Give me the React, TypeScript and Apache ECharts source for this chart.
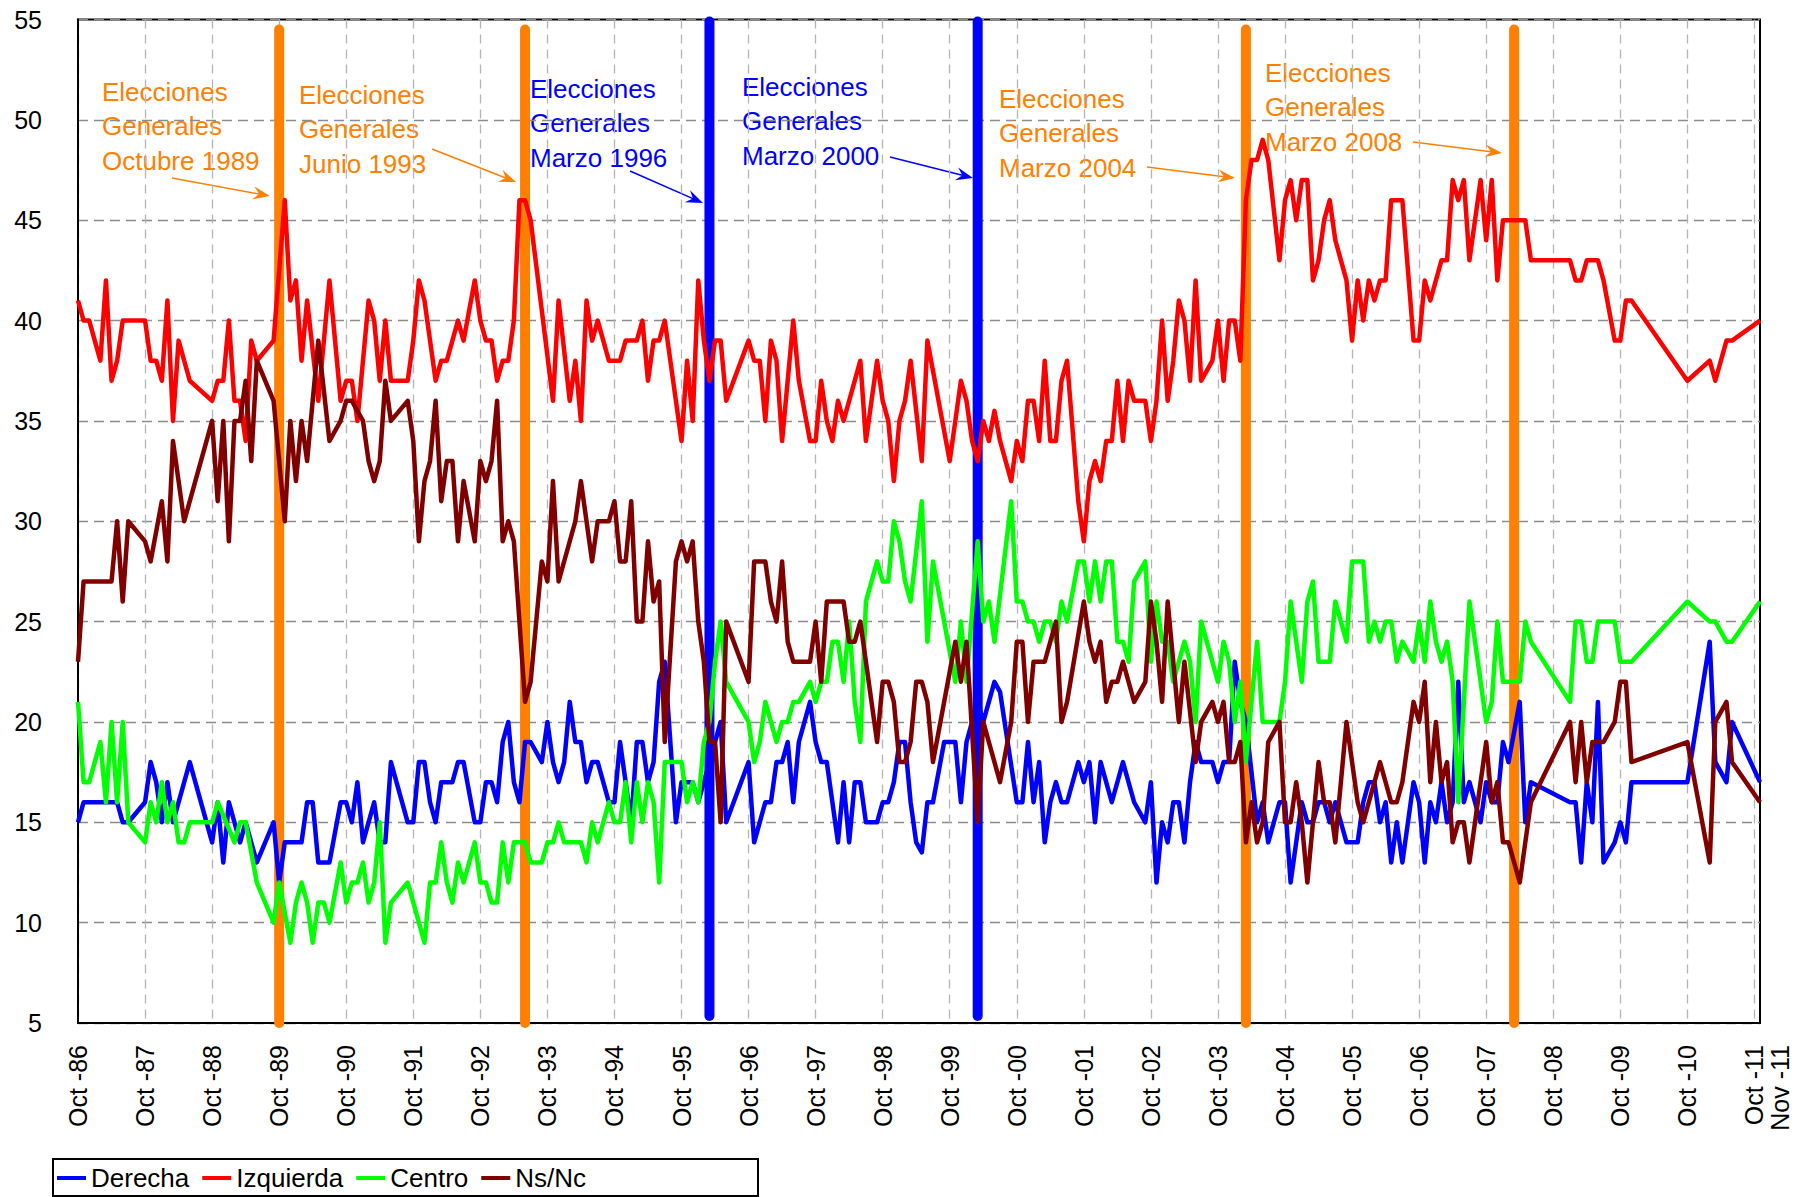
import React, { useEffect, useRef } from "react";
import * as echarts from "echarts";

const MONTHS_ES = ["Ene", "Feb", "Mar", "Abr", "May", "Jun", "Jul", "Ago", "Sep", "Oct", "Nov", "Dic"];
const N_MONTHS = 302; // Oct-86 .. Nov-11
const categories: string[] = [];
for (let k = 0; k < N_MONTHS; k++) {
  const m = (9 + k) % 12;
  const y = 1986 + Math.floor((9 + k) / 12);
  categories.push(`${MONTHS_ES[m]} -${String(y % 100).padStart(2, "0")}`);
}

// [month index from Oct-86, value]
const derecha = [
  [0,15],[1,16],[7,16],[8,15],[9,15],[12,16],[13,18],[14,17],[15,15],[16,17],[17,15],[20,18],[24,14],[25,16],[26,13],[27,16],[29,14],[30,15],[32,13],[35,15],[36,12],[37,14],[40,14],[41,16],[42,16],[43,13],[45,13],[47,16],[48,16],[49,15],[50,17],
  [51,14],[53,16],[54,14],[55,14],[56,18],[59,15],[60,15],[61,18],[62,18],[63,16],[64,15],[65,17],[67,17],[68,18],[69,18],[71,15],[72,15],[73,17],[74,17],[75,16],[76,19],[77,20],[78,17],[79,16],[80,19],[81,19],[83,18],[84,20],[85,18],[86,17],[87,18],[88,21],[89,19],[90,19],[91,17],[92,18],[93,18],[95,16],[96,16],[97,19],[99,15],[100,19],
  [101,19],[102,17],[103,18],[104,22],[105,23],[107,15],[108,17],[110,17],[111,16],[113,18],[115,20],[116,15],[120,18],[121,14],[123,16],[124,16],[125,18],[126,18],[127,19],[128,16],[129,19],[131,21],[132,19],[133,18],[134,18],[136,14],[137,17],[138,14],[139,17],[140,17],[141,15],[143,15],[144,16],[145,16],[146,17],[147,19],[148,19],[149,16],[150,14],
  [151,13.5],[152,16],[153,16],[155,19],[157,19],[158,16],[159,19],[160,20],[161,21],[162,20],[163,21],[164,22],[165,21.5],[168,16],[169,16],[170,19],[171,16],[172,18],[173,14],[174,16],[175,17],[176,16],[177,16],[179,18],[180,17],[181,18],[182,15],[183,18],[185,16],[187,18],[189,16],[191,15],[192,17],[193,12],[194,15],[195,14],[196,16],[197,16],[198,14],[199,17],[200,19],
  [201,18],[203,18],[204,17],[205,18],[206,18],[207,23],[208,21],[209,20],[211,15],[212,16],[213,14],[215,16],[216,16],[217,12],[219,16],[220,15],[221,15],[222,16],[223,16],[224,15],[225,16],[227,14],[229,14],[230,16],[231,17],[232,17],[233,15],[234,16],[235,13],[236,15],[237,13],[239,17],[240,16],[241,13],[242,16],[243,15],[244,17],[245,15],[246,16],[247,22],[248,16],[249,17],
  [251,15],[252,17],[253,16],[254,16],[255,19],[256,18],[258,21],[259,15],[260,17],[267,16],[268,16],[269,13],[270,17],[271,15],[272,21],[273,13],[275,14],[276,15],[277,14],[278,17],[288,17],[292,24],[293,18],[295,17],[296,20],[301,17],
];

const izquierda = [
  [0,41],[1,40],[2,40],[4,38],[5,42],[6,37],[7,38],[8,40],[12,40],[13,38],[14,38],[15,37],[16,41],[17,35],[18,39],[20,37],[24,36],[25,37],[26,37],[27,40],[28,36],[29,36],[30,34],[31,39],[32,38],[35,39],[37,46],[38,41],[39,42],[40,38],[41,41],[43,36],[45,42],[47,36],[48,37],[49,37],[50,35],
  [52,41],[53,40],[54,37],[55,40],[56,37],[59,37],[60,39],[61,42],[62,41],[64,37],[65,38],[66,38],[68,40],[69,39],[71,42],[72,40],[73,39],[74,39],[75,37],[76,38],[77,38],[78,40],[79,46],[80,46],[81,45],[85,36],[86,41],[88,36],[89,38],[90,35],[91,41],[92,39],[93,40],[95,38],[97,38],[98,39],[100,39],
  [101,40],[102,37],[103,39],[104,39],[105,40],[108,34],[109,38],[110,35],[111,42],[112,39],[113,37],[114,39],[115,39],[116,36],[120,39],[121,38],[122,38],[123,35],[124,39],[125,38],[126,34],[128,40],[129,37],[131,34],[132,34],[133,37],[134,35],[135,34],[136,36],[137,35],[140,38],[141,34],[143,38],[144,36],[145,35],[146,32],[147,35],[148,36],[149,38],
  [151,33],[152,39],[156,33],[158,37],[159,36],[160,34],[161,33],[162,35],[163,34],[164,35.5],[165,34],[167,32],[168,34],[169,33],[170,36],[171,36],[172,34],[173,38],[174,34],[175,34],[176,37],[177,38],[179,31],[180,29],[181,32],[182,33],[183,32],[184,34],[185,34],[186,37],[187,34],[188,37],[189,36],[191,36],[192,34],[193,36],[194,40],[195,36],[196,38],[197,41],[198,40],[199,37],[200,42],
  [201,37],[203,38],[204,40],[205,37],[206,40],[207,40],[208,38],[209,46],[210,48],[211,48],[212,49],[213,48],[215,43],[216,46],[217,47],[218,45],[219,47],[220,47],[221,42],[222,43],[223,45],[224,46],[225,44],[227,42],[228,39],[229,42],[230,40],[231,42],[232,41],[233,42],[234,42],[235,46],[237,46],[239,39],[240,39],[241,42],[242,41],[244,43],[245,43],[246,47],[247,46],[248,47],[249,43],
  [251,47],[252,44],[253,47],[254,42],[255,45],[259,45],[260,43],[267,43],[268,42],[269,42],[270,43],[272,43],[273,42],[275,39],[276,39],[277,41],[278,41],[288,37],[292,38],[293,37],[295,39],[296,39],[301,40],
];

const centro = [
  [0,21],[1,17],[2,17],[4,19],[5,16],[6,20],[7,16],[8,20],[9,15],[12,14],[13,16],[14,15],[15,17],[16,15],[17,16],[18,14],[19,14],[20,15],[24,15],[25,16],[28,14],[29,15],[30,15],[32,12],[35,10],[36,12],[38,9],[39,11],[40,12],[41,11],[42,9],[43,11],[44,11],[45,10],[47,13],[48,11],[49,12],[50,12],
  [51,13],[52,11],[53,12],[54,15],[55,9],[56,11],[59,12],[62,9],[63,12],[64,12],[65,14],[66,12],[67,11],[68,13],[69,12],[71,14],[72,12],[73,12],[74,11],[75,11],[76,14],[77,12],[78,14],[80,14],[81,13],[83,13],[84,14],[85,14],[86,15],[87,14],[90,14],[91,13],[92,15],[93,14],[95,16],[96,15],[97,15],[98,17],[99,14],[100,17],
  [101,15],[102,17],[103,16],[104,12],[105,18],[108,18],[109,16],[110,17],[111,16],[112,19],[113,20],[114,23],[115,25],[116,22],[120,20],[121,18],[122,19],[123,21],[125,19],[126,20],[127,20],[128,21],[129,21],[131,22],[132,21],[133,22],[134,22],[135,24],[136,24],[137,22],[138,25],[139,21],[140,19],[141,26],[143,28],[144,27],[145,27],[146,30],[147,29],[148,27],[149,26],
  [151,31],[152,24],[153,28],[157,22],[158,25],[159,22],[161,29],[162,25],[163,26],[164,24],[167,31],[168,26],[169,26],[170,25],[171,25],[172,24],[173,25],[174,25],[175,24],[176,26],[177,25],[179,28],[180,28],[181,26],[182,28],[183,26],[184,28],[185,28],[186,24],[187,24],[188,23],[189,27],[191,28],[192,23],[193,26],[194,24],[195,24],[196,22],[198,24],[199,23],[200,20],
  [201,25],[204,22],[205,24],[206,23],[207,20],[208,22],[209,18],[211,24],[212,20],[215,20],[216,22],[217,26],[219,22],[220,26],[221,27],[222,23],[224,23],[225,26],[227,24],[228,28],[230,28],[231,24],[232,25],[233,24],[234,25],[235,25],[236,23],[237,24],[239,23],[240,25],[241,23],[242,26],[243,24],[244,23],[245,24],[246,22],[247,16],[249,26],
  [252,20],[253,21],[254,25],[255,22],[258,22],[259,25],[260,24],[267,21],[268,25],[269,25],[270,23],[271,23],[272,25],[275,25],[276,23],[278,23],[288,26],[292,25],[293,25],[295,24],[296,24],[301,26],
];

const nsnc = [
  [0,23],[1,27],[6,27],[7,30],[8,26],[9,30],[12,29],[13,28],[15,31],[16,28],[17,34],[19,30],[24,35],[25,31],[26,35],[27,29],[28,35],[29,35],[30,37],[31,33],[32,38],[35,36],[37,30],[38,35],[39,32],[40,35],[41,33],[43,39],[45,34],[47,35],[48,36],[49,36],
  [51,35],[52,33],[53,32],[54,33],[55,37],[56,35],[59,36],[60,34],[61,29],[62,32],[63,33],[64,36],[65,31],[66,33],[67,33],[68,29],[69,32],[71,29],[72,33],[73,32],[74,33],[75,36],[76,29],[77,30],[78,29],[80,21],[81,22],[83,28],[84,27],[85,32],[86,27],[89,30],[90,32],[92,28],[93,30],[95,30],[96,31],[97,28],[98,28],[99,31],[100,25],
  [101,25],[102,29],[103,26],[104,27],[105,19],[107,28],[108,29],[109,28],[110,29],[111,25],[112,23],[113,19],[114,19],[115,15],[116,25],[120,22],[121,28],[123,28],[124,26],[125,25],[126,28],[127,24],[128,23],[131,23],[132,25],[133,22],[134,26],[137,26],[138,24],[139,24],[140,25],[143,19],[144,22],[145,22],[146,21],[147,18],[148,18],[149,19],[150,22],
  [151,22],[152,21],[153,18],[155,21],[157,24],[158,22],[159,24],[161,15],[162,20],[163,19],[165,17],[167,20],[168,24],[169,24],[170,20],[171,23],[173,23],[175,25],[176,20],[177,21],[180,26],[181,24],[182,23],[183,24],[184,21],[185,22],[186,22],[187,23],[189,21],[191,22],[192,26],[193,24],[194,21],[195,26],[197,20],[198,23],[200,18],
  [201,20],[203,21],[204,20],[205,21],[206,18],[207,18],[208,19],[209,14],[210,16],[211,14],[212,15],[213,19],[215,20],[216,15],[217,15],[218,17],[219,15],[220,12],[221,15],[222,18],[223,16],[224,16],[225,14],[227,20],[229,16],[230,15],[231,16],[232,17],[233,18],[235,16],[236,16],[237,17],[239,21],[240,20],[241,22],[242,17],[243,20],[244,17],[245,18],[246,14],[247,15],[248,15],[249,13],
  [252,19],[253,16],[254,17],[255,14],[256,14],[258,12],[260,16],[267,20],[268,17],[269,20],[270,17],[271,19],[273,19],[275,20],[276,22],[277,22],[278,18],[288,19],[292,13],[293,20],[295,21],[296,18],[301,16],
];

const seriesNames = ["Derecha", "Izquierda", "Centro", "Ns/Nc"];
const seriesColors = ["#0000FF", "#FF0000", "#00FF00", "#800000"];
const seriesData = [derecha, izquierda, centro, nsnc];

// general elections: month index, colour, label
const eleccionesIdx = [36, 80, 113, 161, 209, 257];
const eleccionesColor = ["#FF8000", "#FF8000", "#0000FF", "#0000FF", "#FF8000", "#FF8000"];
const eleccionesLabel = [
  "Elecciones\nGenerales\nOctubre 1989",
  "Elecciones\nGenerales\nJunio 1993",
  "Elecciones\nGenerales\nMarzo 1996",
  "Elecciones\nGenerales\nMarzo 2000",
  "Elecciones\nGenerales\nMarzo 2004",
  "Elecciones\nGenerales\nMarzo 2008",
];

// annotation layout (pixels)
const labelPos = [[102, 92], [299, 95], [530, 89], [742, 87], [999, 99], [1265, 73]];
const arrowPos = [
  [172, 178, 270, 196],
  [432, 149, 516, 182],
  [630, 171, 703, 203],
  [890, 157, 973, 178],
  [1147, 167, 1235, 178],
  [1413, 142, 1502, 153],
];

const FONT = "'Liberation Sans', Arial, sans-serif";
const LINE_H = 34.4;

function arrow(x1: number, y1: number, x2: number, y2: number, color: string) {
  const dx = x2 - x1, dy = y2 - y1;
  const L = Math.hypot(dx, dy);
  const ux = dx / L, uy = dy / L;
  const px = -uy, py = ux;
  const len = 17, w = 6.5, notch = 11;
  const nx = x2 - ux * notch, ny = y2 - uy * notch;
  return [
    { type: "line", shape: { x1, y1, x2: nx, y2: ny }, style: { stroke: color, lineWidth: 1.5 }, silent: true },
    {
      type: "polygon",
      shape: {
        points: [
          [x2, y2],
          [x2 - ux * len + px * w, y2 - uy * len + py * w],
          [nx, ny],
          [x2 - ux * len - px * w, y2 - uy * len - py * w],
        ],
      },
      style: { fill: color },
      silent: true,
    },
  ];
}

export default function App() {
  const ref = useRef<HTMLDivElement>(null);
  useEffect(() => {
    if (!ref.current) return;
    const chart = echarts.init(ref.current, undefined, { renderer: "svg" });

    const electionSeries = eleccionesIdx.map((idx, k) => {
      const blue = eleccionesColor[k] === "#0000FF";
      return {
        type: "line",
        name: "elec" + k,
        data: blue ? [[idx, 54.9], [idx, 5.35]] : [[idx, 54.5], [idx, 5.0]],
        symbol: "none",
        silent: true,
        clip: false,
        z: 1,
        lineStyle: { color: eleccionesColor[k], width: 10, cap: "round" },
        itemStyle: { color: eleccionesColor[k] },
      };
    });

    const dataSeries = seriesNames.map((name, k) => ({
      type: "line",
      name,
      data: seriesData[k],
      symbol: "none",
      showSymbol: false,
      z: 3,
      color: seriesColors[k],
      lineStyle: { color: seriesColors[k], width: 4.5, join: "round" },
      itemStyle: { color: seriesColors[k] },
    }));

    const graphics: any[] = [];
    eleccionesLabel.forEach((txt, k) => {
      graphics.push({
        type: "text",
        x: labelPos[k][0],
        y: labelPos[k][1] - LINE_H / 2,
        silent: true,
        style: {
          text: txt,
          fill: eleccionesColor[k],
          fontSize: 26,
          fontFamily: FONT,
          lineHeight: LINE_H,
          verticalAlign: "top",
          align: "left",
        },
      });
      const a = arrowPos[k];
      graphics.push(...arrow(a[0], a[1], a[2], a[3], eleccionesColor[k]));
    });
    graphics.push({
      type: "rect",
      shape: { x: 53, y: 1159, width: 705, height: 37 },
      style: { fill: "none", stroke: "#000", lineWidth: 2 },
      silent: true,
    });

    const lastOct = N_MONTHS - 2;

    chart.setOption({
      animation: false,
      backgroundColor: "#fff",
      textStyle: { fontFamily: FONT },
      grid: {
        left: 78,
        right: 38,
        top: 19.5,
        bottom: 174,
        show: true,
        borderColor: "#000",
        borderWidth: 2,
        backgroundColor: "transparent",
      },
      legend: {
        data: seriesNames,
        left: 57,
        top: 1165,
        icon: "rect",
        itemWidth: 29,
        itemHeight: 4,
        itemGap: 13,
        padding: 0,
        textStyle: { fontSize: 26, color: "#000", fontFamily: FONT },
      },
      xAxis: {
        type: "category",
        data: categories,
        boundaryGap: false,
        axisLine: { show: true, lineStyle: { color: "#000", width: 2 } },
        axisTick: { show: false },
        axisLabel: {
          interval: (i: number) => i % 12 === 0,
          formatter: (v: string, i: number) =>
            i === lastOct ? "\n" + v + "\n" + categories[N_MONTHS - 1] : v,
          rotate: 90,
          fontSize: 25,
          lineHeight: 26,
          color: "#000",
          margin: 22,
          fontFamily: FONT,
        },
        splitLine: {
          show: true,
          interval: (i: number) => i % 12 === 0,
          lineStyle: { color: "#b4b4b4", type: [9, 6], width: 1.3 },
        },
      },
      yAxis: {
        type: "value",
        min: 5,
        max: 55,
        interval: 5,
        axisLine: { show: true, lineStyle: { color: "#000", width: 2 } },
        axisTick: { show: false },
        axisLabel: { fontSize: 25, color: "#000", margin: 36, fontFamily: FONT },
        splitLine: { show: true, lineStyle: { color: "#8c8c8c", type: [10, 6], width: 1.3 } },
      },
      series: [...electionSeries, ...dataSeries],
      graphic: graphics,
    });
    return () => chart.dispose();
  }, []);

  return (
    <div
      ref={ref}
      style={{ position: "fixed", left: 0, top: 0, width: 1798, height: 1197, background: "#fff" }}
    />
  );
}
